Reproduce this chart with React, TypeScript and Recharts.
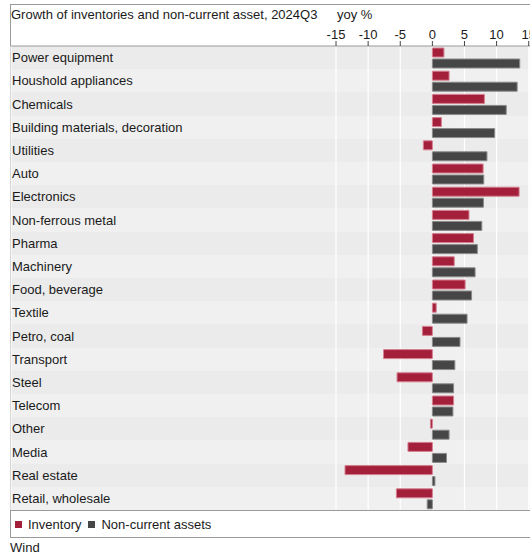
import React from 'react'
import {
  BarChart,
  Bar,
  XAxis,
  YAxis,
  CartesianGrid,
  Legend
} from 'recharts'

const sectors = [
  'Power equipment',
  'Houshold appliances',
  'Chemicals',
  'Building materials, decoration',
  'Utilities',
  'Auto',
  'Electronics',
  'Non-ferrous metal',
  'Pharma',
  'Machinery',
  'Food, beverage',
  'Textile',
  'Petro, coal',
  'Transport',
  'Steel',
  'Telecom',
  'Other',
  'Media',
  'Real estate',
  'Retail, wholesale'
]

// yoy %, 2024Q3
const inventory = [
  1.8, 2.6, 8.1, 1.4, -1.4, 7.9, 13.5, 5.7, 6.4, 3.4, 5.1, 0.6, -1.55, -7.6,
  -5.5, 3.3, -0.3, -3.8, -13.6, -5.6
]
const nonCurrent = [
  13.6, 13.2, 11.5, 9.7, 8.5, 8.0, 7.95, 7.7, 7.0, 6.65, 6.1, 5.4, 4.3, 3.5,
  3.3, 3.2, 2.6, 2.2, 0.4, -0.8
]

const xTicks = [-15, -10, -5, 0, 5, 10, 15]

const data = sectors.map((name, i) => ({
  name,
  inventory: inventory[i],
  nonCurrent: nonCurrent[i]
}))

const FONT = '"Liberation Sans", Arial, sans-serif'
const RED = '#a41f3a'
const DARK = '#464646'
const FRAME = '#9a9a9a'

const renderRowLabel = (props: any) => {
  const { y, payload, index } = props
  return (
    <text key={`lbl-${index}`} x={2} y={y} dy={4.5} fill='#1a1a1a' fontSize={13} fontFamily={FONT} textAnchor='start'>
      {payload.value}
    </text>
  )
}

const LegendBox = (props: any) => {
  const { payload } = props
  return (
    <div
      style={{
        height: 27,
        borderTop: `1px solid ${FRAME}`,
        display: 'flex',
        alignItems: 'center',
        paddingLeft: 5,
        fontSize: 13,
        fontFamily: FONT,
        color: '#1a1a1a'
      }}
    >
      {(payload || []).map((p: any) => (
        <span key={p.value} style={{ display: 'flex', alignItems: 'center', marginRight: 7 }}>
          <span style={{ width: 7, height: 7, background: p.color, marginRight: 6, display: 'inline-block' }} />
          {p.value}
        </span>
      ))}
    </div>
  )
}

const App = () => {
  const rowLines = ({ offset }: any) =>
    sectors.map((_, i) => offset.top + (i * offset.height) / sectors.length)

  return (
    <div style={{ position: 'absolute', left: 0, top: 0, width: 530, height: 556, fontFamily: FONT }}>
      <div
        style={{
          position: 'absolute',
          left: 10,
          top: 4,
          width: 530,
          height: 532,
          borderTop: `1px solid ${FRAME}`,
          borderLeft: `1px solid ${FRAME}`,
          borderBottom: `1px solid ${FRAME}`
        }}
      />
      <div style={{ position: 'absolute', left: 11, top: 7, fontSize: 13, color: '#1a1a1a', whiteSpace: 'nowrap' }}>
        Growth of inventories and non-current asset, 2024Q3
      </div>
      <div style={{ position: 'absolute', left: 337, top: 7, fontSize: 13, color: '#1a1a1a' }}>yoy %</div>
      <div style={{ position: 'absolute', left: 10, top: 0 }}>
        <BarChart
          width={520}
          height={538}
          data={data}
          layout='vertical'
          margin={{ top: 16, right: 0, bottom: 0, left: 0 }}
          barSize={9}
          barGap={2}
        >
          <CartesianGrid
            horizontalCoordinatesGenerator={rowLines}
            horizontalFill={['#ebebeb', '#f0f0f0']}
            horizontal={(p: any) => <line key={`h-${p.y1}`} stroke='none' />}
            stroke='#ffffff'
            strokeWidth={1.2}
          />
          <XAxis
            type='number'
            orientation='top'
            height={30}
            domain={[-65.6, 15.2]}
            ticks={xTicks}
            interval={0}
            axisLine={{ stroke: FRAME }}
            tickLine={{ stroke: '#444' }}
            tickSize={5}
            tick={{ fill: '#1a1a1a', fontSize: 13, fontFamily: FONT }}
          />
          <Legend verticalAlign='bottom' align='left' content={<LegendBox />} />
          <Bar dataKey='inventory' name='Inventory' fill={RED} stroke='#d47f90' strokeWidth={1} isAnimationActive={false} />
          <Bar dataKey='nonCurrent' name='Non-current assets' fill={DARK} stroke='#8a8a8a' strokeWidth={1} isAnimationActive={false} />
          <YAxis
            type='category'
            dataKey='name'
            width={1}
            axisLine={false}
            tickLine={false}
            tickSize={0}
            tickMargin={0}
            interval={0}
            tick={renderRowLabel}
          />
        </BarChart>
      </div>
      <div style={{ position: 'absolute', left: 10, top: 540, fontSize: 13, color: '#1a1a1a' }}>Wind</div>
    </div>
  )
}

export default App
